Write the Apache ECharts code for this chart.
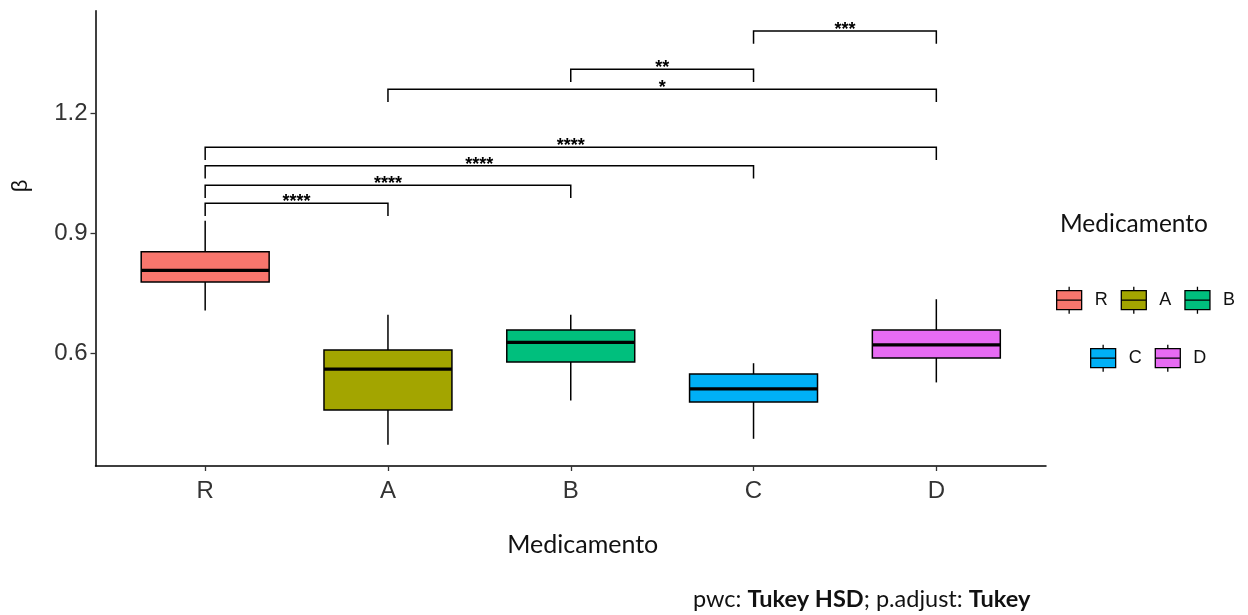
<!DOCTYPE html>
<html>
<head>
<meta charset="utf-8">
<script src="https://cdn.jsdelivr.net/npm/echarts@6/dist/echarts.min.js"></script>
<style>
html,body{margin:0;padding:0;background:#fff;}
#chart{width:1248px;height:615px;}
</style>
</head>
<body>
<div id="chart"></div>
<script>
// ---- data ----
const categories = ['R', 'A', 'B', 'C', 'D'];
const colors = ['#F8766D', '#A3A500', '#00BF7D', '#00B0F6', '#E76BF3'];
const whiskerLow = [0.707, 0.371, 0.482, 0.386, 0.527];
const q1 = [0.778, 0.458, 0.578, 0.478, 0.588];
const median = [0.807, 0.560, 0.627, 0.511, 0.621];
const q3 = [0.854, 0.608, 0.658, 0.548, 0.658];
const whiskerHigh = [0.931, 0.696, 0.696, 0.575, 0.735];
const yTicks = [0.6, 0.9, 1.2];
const pairFrom = ['R', 'R', 'R', 'R', 'A', 'B', 'C'];
const pairTo = ['A', 'B', 'C', 'D', 'D', 'C', 'D'];
const pairY = [0.975, 1.020, 1.069, 1.115, 1.260, 1.310, 1.406];
const pairLabel = ['****', '****', '****', '****', '*', '**', '***'];

const chart = echarts.init(document.getElementById('chart'), null, {renderer: 'canvas'});
const xPos = categories.map((c, i) => i + 1);
const BOX_HALF = 0.35;
const BRACKET_TICK = 0.032;
const FONT = '"Liberation Sans", Arial, sans-serif';
const FONT2 = 'Lato, "Open Sans", sans-serif';

const boxSeries = categories.map((c, i) => ({
  name: c,
  type: 'custom',
  clip: false,
  itemStyle: {color: colors[i]},
  encode: {x: 0, y: [1, 2, 3, 4, 5]},
  data: [[xPos[i], whiskerLow[i], q1[i], median[i], q3[i], whiskerHigh[i]]],
  renderItem: function (params, api) {
    const x = api.value(0);
    const pLo = api.coord([x, api.value(1)]);
    const pQ1 = api.coord([x, api.value(2)]);
    const pMed = api.coord([x, api.value(3)]);
    const pQ3 = api.coord([x, api.value(4)]);
    const pHi = api.coord([x, api.value(5)]);
    const half = api.size([BOX_HALF, 0])[0];
    const cx = pMed[0];
    const lineStyle = {stroke: '#000', lineWidth: 1.5};
    return {
      type: 'group',
      children: [
        {type: 'line', shape: {x1: cx, y1: pHi[1], x2: cx, y2: pQ3[1]}, style: lineStyle},
        {type: 'line', shape: {x1: cx, y1: pQ1[1], x2: cx, y2: pLo[1]}, style: lineStyle},
        {type: 'rect', shape: {x: cx - half, y: pQ3[1], width: 2 * half, height: pQ1[1] - pQ3[1]},
          style: {fill: colors[i], stroke: '#000', lineWidth: 1.5}},
        {type: 'line', shape: {x1: cx - half, y1: pMed[1], x2: cx + half, y2: pMed[1]},
          style: {stroke: '#000', lineWidth: 3.2}}
      ]
    };
  }
}));

const bracketData = pairFrom.map((f, k) => [categories.indexOf(f) + 1, categories.indexOf(pairTo[k]) + 1, pairY[k]]);

const bracketSeries = {
  type: 'custom',
  name: 'brackets',
  clip: false,
  silent: true,
  encode: {x: [0, 1], y: 2},
  data: bracketData,
  renderItem: function (params, api) {
    const x1 = api.value(0), x2 = api.value(1), y = api.value(2);
    const a = api.coord([x1, y]);
    const b = api.coord([x2, y]);
    const a2 = api.coord([x1, y - BRACKET_TICK]);
    const b2 = api.coord([x2, y - BRACKET_TICK]);
    return {
      type: 'group',
      children: [
        {type: 'polyline', shape: {points: [a2, a, b, b2]}, style: {stroke: '#000', lineWidth: 1.5, fill: null}},
        {type: 'text', x: (a[0] + b[0]) / 2, y: a[1] + 8,
          style: {text: pairLabel[params.dataIndex], fill: '#000', font: 'bold 18px ' + FONT,
            align: 'center', verticalAlign: 'bottom'}}
      ]
    };
  }
};

const legendIcon = 'path://M12.5,0L12.5,4M0,4L25,4L25,23L0,23ZM0,13.5L25,13.5M12.5,23L12.5,27';

const option = {
  backgroundColor: '#fff',
  animation: false,
  grid: {left: 95.5, right: 202, top: 10.7, bottom: 149},
  xAxis: {
    type: 'value', min: 0.4, max: 5.6,
    splitLine: {show: false},
    axisLine: {show: true, onZero: false, lineStyle: {color: '#000', width: 1.5}},
    axisTick: {show: true, customValues: xPos, length: 5, lineStyle: {color: '#333', width: 1.3}},
    axisLabel: {customValues: xPos, margin: 13, color: '#333', fontSize: 24, fontFamily: FONT,
      formatter: v => categories[Math.round(v) - 1] || ''},
    name: 'Medicamento', nameLocation: 'middle', nameGap: 66,
    nameTextStyle: {fontSize: 25, color: '#111', fontFamily: FONT2, padding: [0, 0, 0, 24]}
  },
  yAxis: {
    type: 'value', min: 0.318, max: 1.4565,
    splitLine: {show: false},
    axisLine: {show: true, onZero: false, lineStyle: {color: '#000', width: 1.5}},
    axisTick: {show: true, customValues: yTicks, length: 5, lineStyle: {color: '#333', width: 1.3}},
    axisLabel: {customValues: yTicks, margin: 8, color: '#333', fontSize: 24, fontFamily: FONT,
      formatter: v => v.toFixed(1)}
  },
  legend: [
    {
      data: ['R', 'A', 'B'], orient: 'horizontal', left: 1051, top: 281,
      itemWidth: 25, itemHeight: 27, itemGap: 13,
      icon: legendIcon,
      itemStyle: {borderColor: '#000', borderWidth: 1.3},
      textStyle: {fontSize: 18, color: '#111', fontFamily: FONT, padding: [0, 0, 0, 8]},
      selectedMode: false
    },
    {
      data: ['C', 'D'], orient: 'horizontal', left: 1085, top: 339,
      itemWidth: 25, itemHeight: 27, itemGap: 13,
      icon: legendIcon,
      itemStyle: {borderColor: '#000', borderWidth: 1.3},
      textStyle: {fontSize: 18, color: '#111', fontFamily: FONT, padding: [0, 0, 0, 8]},
      selectedMode: false
    }
  ],
  graphic: [
    {type: 'text', x: 21, y: 186, rotation: Math.PI / 2,
      style: {text: 'β', font: '22px ' + FONT, fill: '#111', align: 'center', verticalAlign: 'middle'}},
    {type: 'text', left: 1060, top: 212,
      style: {text: 'Medicamento', font: '24.5px ' + FONT2, fill: '#111'}},
    {type: 'text', left: 693, top: 587,
      style: {
        text: '{n|pwc: }{b|Tukey HSD}{n|; p.adjust: }{b|Tukey}',
        rich: {
          n: {fontSize: 23.5, fontFamily: FONT2, fill: '#111', color: '#111'},
          b: {fontSize: 23.5, fontFamily: FONT2, fontWeight: 'bold', fill: '#111', color: '#111'}
        }
      }}
  ],
  series: boxSeries.concat([bracketSeries])
};
chart.setOption(option);
</script>
</body>
</html>
